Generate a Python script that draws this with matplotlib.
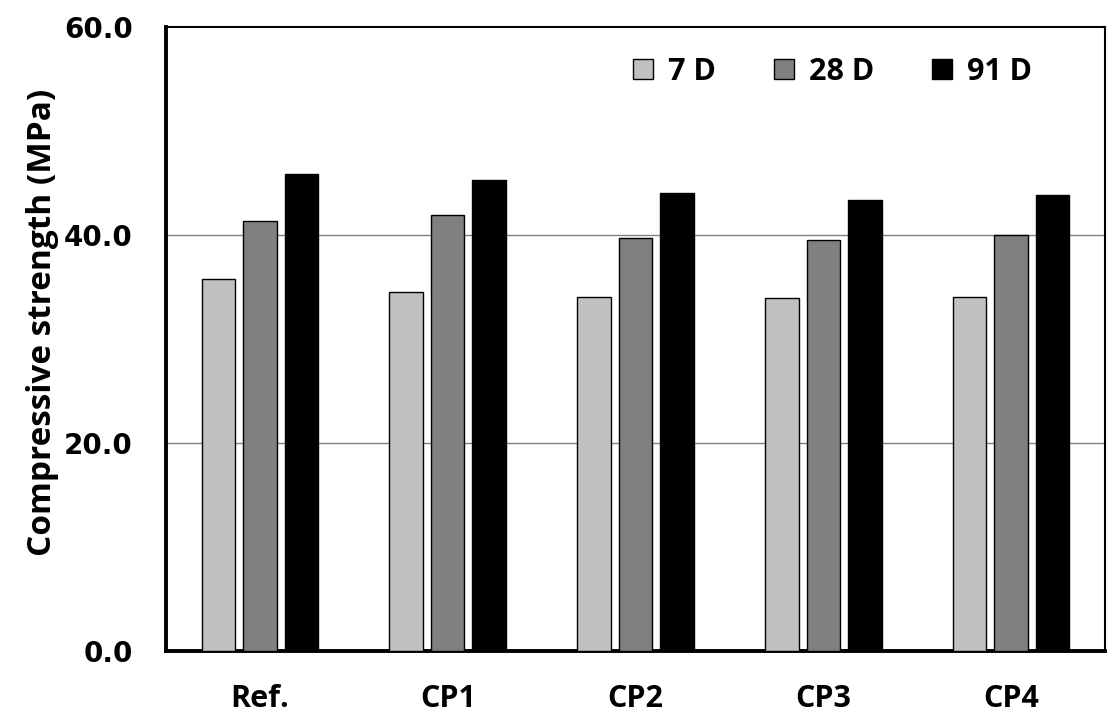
import matplotlib.pyplot as plt
import numpy as np

# mixes and strength values (MPa)
mezclas = ["Ref.", "CP1", "CP2", "CP3", "CP4"]
dias = ["7 D", "28 D", "91 D"]
r7 = [35.8, 34.5, 34.0, 33.9, 34.0]
r28 = [41.3, 41.9, 39.7, 39.5, 40.0]
r91 = [45.9, 45.3, 44.0, 43.4, 43.8]
y_ticks = [0.0, 20.0, 40.0, 60.0]

colores = ["#c0c0c0", "#808080", "#000000"]

fig = plt.figure(figsize=(11.19, 7.22), dpi=100)
ax = fig.add_axes([0.1483, 0.0983, 0.8392, 0.8643])

x = np.arange(len(mezclas))
ancho = 0.178
sep = 0.221
for i, (vals, lab) in enumerate(zip([r7, r28, r91], dias)):
    ax.bar(x + (i - 1) * sep, vals, ancho, color=colores[i], edgecolor="black",
           linewidth=1, label=lab, zorder=3)

ax.set_xlim(-0.5, len(mezclas) - 0.5)
ax.set_ylim(0, 60)
ax.set_yticks(y_ticks)
ax.set_yticklabels([f"{v:.1f}" for v in y_ticks], fontsize=20, fontweight="bold",
                   family="DejaVu Sans")
ax.set_xticks(x)
ax.set_xticklabels(mezclas, fontsize=22, fontweight="bold", family="Open Sans")
ax.tick_params(axis="both", length=0)
ax.tick_params(axis="y", pad=24)
ax.tick_params(axis="x", pad=24)

ax.set_ylabel("Compressive strength (MPa)", fontsize=24, fontweight="bold",
              family="Open Sans")
ax.yaxis.set_label_coords(-0.114, 0.527)

for v in [20, 40]:
    ax.axhline(v, color="#808080", linewidth=1, zorder=1)

ax.spines["left"].set_linewidth(2.8)
ax.spines["bottom"].set_linewidth(2.8)
ax.spines["top"].set_linewidth(1.5)
ax.spines["right"].set_linewidth(1.5)

ax.legend(loc="upper right", bbox_to_anchor=(0.952, 0.996), ncol=3, frameon=False,
          prop={"family": "Open Sans", "weight": "bold", "size": 22},
          handlelength=0.65, handleheight=0.65, handletextpad=0.5, columnspacing=1.9)

fig.savefig("out.png", dpi=100)
